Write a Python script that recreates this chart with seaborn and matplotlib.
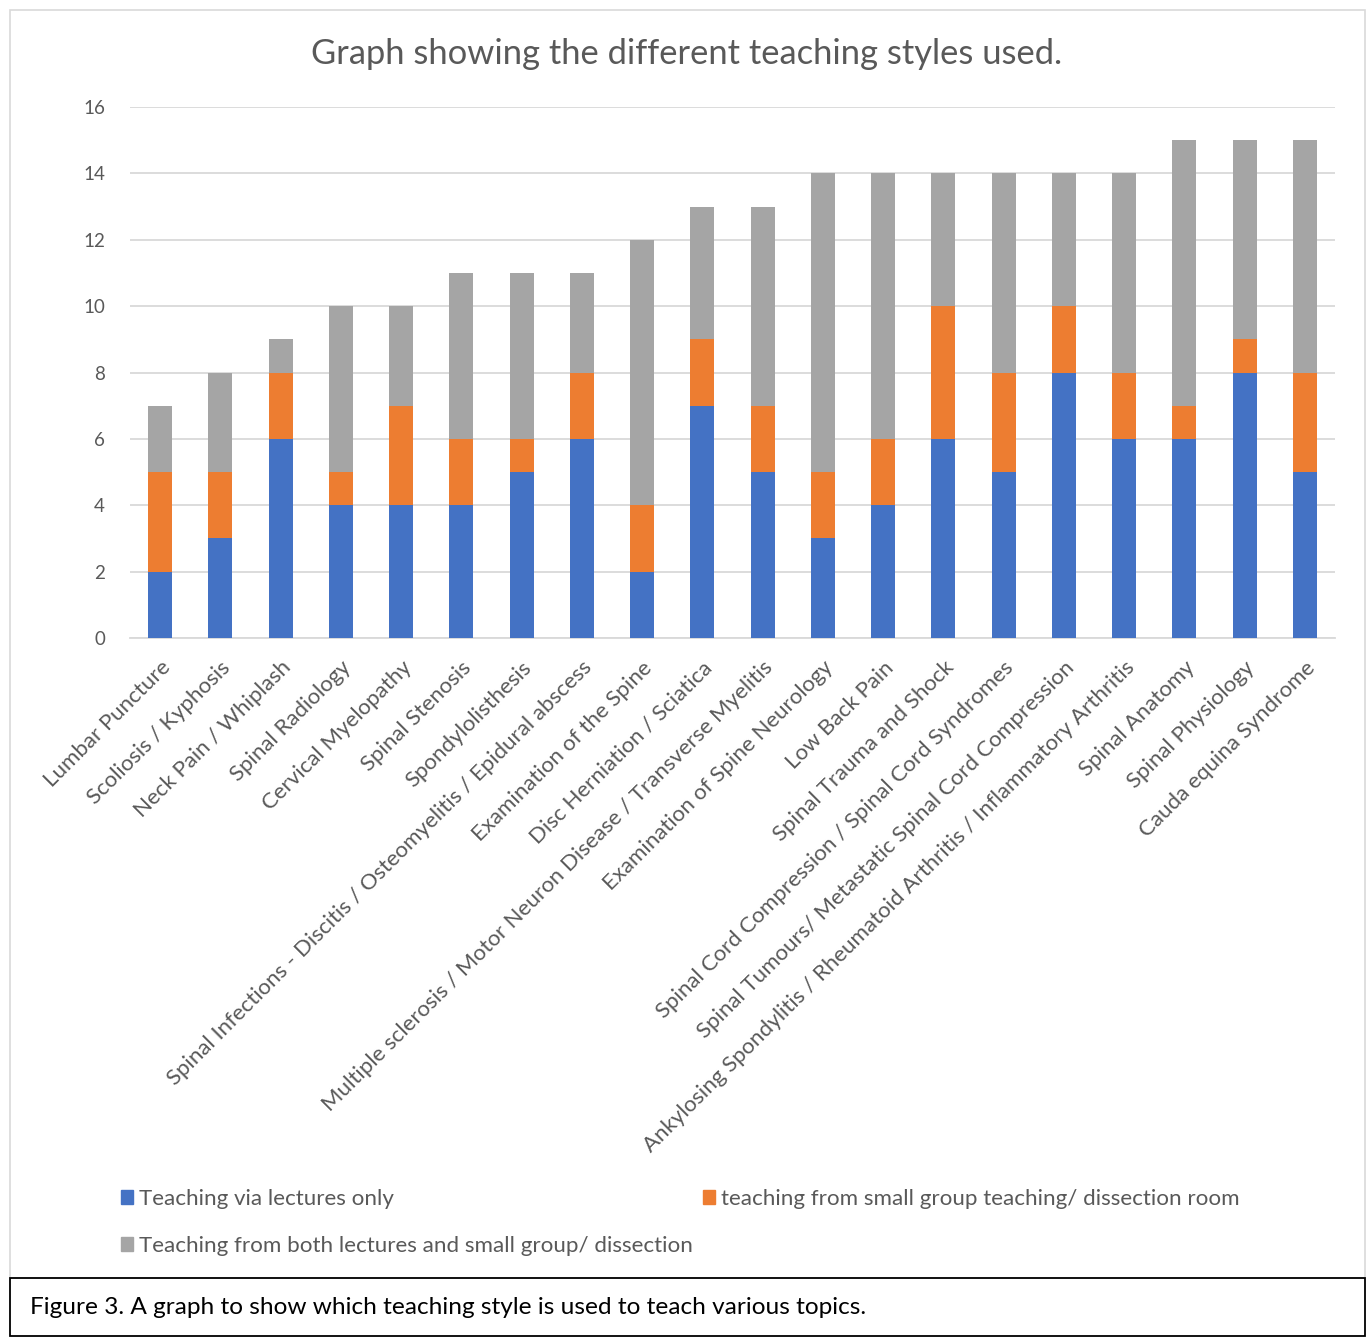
import matplotlib
matplotlib.use("Agg")
import matplotlib.pyplot as plt
import matplotlib.patches as mpatches
import seaborn as sns
import numpy as np
import pandas as pd

topics = [
    "Lumbar Puncture",
    "Scoliosis / Kyphosis",
    "Neck Pain / Whiplash",
    "Spinal Radiology",
    "Cervical Myelopathy",
    "Spinal Stenosis",
    "Spondylolisthesis",
    "Spinal Infections - Discitis / Osteomyelitis / Epidural abscess",
    "Examination of the Spine",
    "Disc Herniation / Sciatica",
    "Multiple sclerosis / Motor Neuron Disease / Transverse Myelitis",
    "Examination of Spine Neurology",
    "Low Back Pain",
    "Spinal Trauma and Shock",
    "Spinal Cord Compression / Spinal Cord Syndromes",
    "Spinal Tumours/ Metastatic Spinal Cord Compression",
    "Ankylosing Spondylitis / Rheumatoid Arthritis / Inflammatory Arthritis",
    "Spinal Anatomy",
    "Spinal Physiology",
    "Cauda equina Syndrome",
]
lectures_only = [2, 3, 6, 4, 4, 4, 5, 6, 2, 7, 5, 3, 4, 6, 5, 8, 6, 6, 8, 5]
small_group = [3, 2, 2, 1, 3, 2, 1, 2, 2, 2, 2, 2, 2, 4, 3, 2, 2, 1, 1, 3]
both = [2, 3, 1, 5, 3, 5, 5, 3, 8, 4, 6, 9, 8, 4, 6, 4, 6, 8, 6, 7]

series_names = [
    "Teaching via lectures only",
    "teaching from small group teaching/ dissection room",
    "Teaching from both lectures and small group/ dissection",
]
colors = ["#4472C4", "#ED7D31", "#A5A5A5"]
yticks = [0, 2, 4, 6, 8, 10, 12, 14, 16]

df = pd.DataFrame({
    "topic": topics,
    "blue": lectures_only,
    "orange": small_group,
    "gray": both,
})
df["c1"] = df["blue"]
df["c2"] = df["blue"] + df["orange"]
df["c3"] = df["c2"] + df["gray"]

sns.set_theme(style="white")
FONT = ["Lato", "DejaVu Sans"]
plt.rcParams["font.family"] = FONT
TXT = "#595959"

W, H = 1370, 1344
fig = plt.figure(figsize=(W / 100, H / 100), dpi=100)
ax = fig.add_axes([130 / W, 1 - 638 / H, (1335 - 130) / W, (638 - 107) / H])

for col, c in zip(["c3", "c2", "c1"], [colors[2], colors[1], colors[0]]):
    sns.barplot(data=df, x="topic", y=col, color=c, width=0.4, ax=ax,
                saturation=1, zorder=3, edgecolor="none", linewidth=0)

ax.set_ylim(0, 16)
ax.set_xlim(-0.5, len(topics) - 0.5)
ax.set_yticks(yticks)
ax.set_yticklabels([str(v) for v in yticks], fontsize=13.5, color=TXT)
ax.set_xlabel("")
ax.set_ylabel("")
ax.yaxis.grid(True, color="#D9D9D9", linewidth=1.3, zorder=0)
ax.set_axisbelow(True)
for s in ["top", "right", "left"]:
    ax.spines[s].set_visible(False)
ax.spines["bottom"].set_color("#D9D9D9")
ax.spines["bottom"].set_linewidth(1.3)
ax.tick_params(axis="y", length=0, pad=18)
ax.tick_params(axis="x", length=0, pad=14)
ax.set_xticks(range(len(topics)))
ax.set_xticklabels(topics, rotation=45, ha="right", rotation_mode="anchor",
                   fontsize=16, color=TXT)

fig.text(687 / W, 1 - 54 / H, "Graph showing the different teaching styles used.",
         ha="center", va="center", fontsize=24.8, color=TXT)

handles = [mpatches.Patch(color=colors[0], label=series_names[0]),
           mpatches.Patch(color=colors[2], label=series_names[2]),
           mpatches.Patch(color=colors[1], label=series_names[1])]
fig.legend(handles=handles, ncol=2, loc="upper left",
           bbox_to_anchor=(112 / W, 1 - 1180 / H), frameon=False,
           fontsize=16.1, labelcolor=TXT, handlelength=0.55, handleheight=0.55,
           handletextpad=0.25, columnspacing=0.45, labelspacing=1.2,
           borderaxespad=0)

# outer chart border
fig.patches.append(mpatches.Rectangle((10 / W, 1 - 1278 / H), 1355 / W, 1268 / H,
                                      transform=fig.transFigure, fill=False,
                                      edgecolor="#D9D9D9", linewidth=1.2))
# caption box
fig.patches.append(mpatches.Rectangle((10 / W, 1 - 1336 / H), 1355 / W, 58 / H,
                                      transform=fig.transFigure, fill=False,
                                      edgecolor="black", linewidth=1.3))
fig.text(30 / W, 1 - 1308 / H,
         "Figure 3. A graph to show which teaching style is used to teach various topics.",
         ha="left", va="center", fontsize=17.6, color="black")

fig.savefig("out.png", dpi=100)
